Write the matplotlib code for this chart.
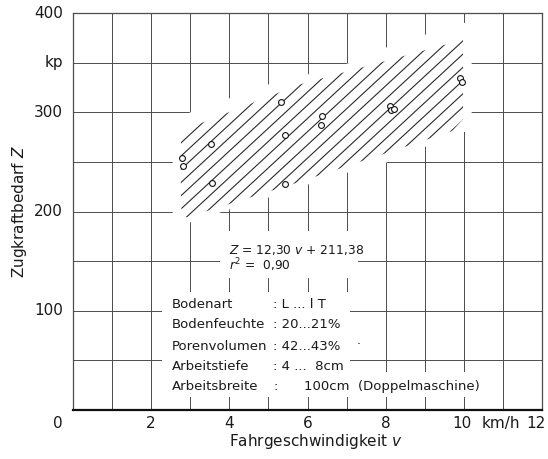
import numpy as np
import matplotlib
matplotlib.use("Agg")
import matplotlib.pyplot as plt
from matplotlib.patches import Polygon, Rectangle

plt.rcParams['font.family'] = ['DejaVu Sans']
plt.rcParams['mathtext.fontset'] = 'dejavusans'

# measured points: Fahrgeschwindigkeit v (km/h), Zugkraftbedarf Z (kp)
v_meas = [2.80, 2.81, 3.52, 3.56, 5.31, 5.42, 5.42, 6.38, 6.35, 8.12, 8.14, 8.21, 9.90, 9.95]
z_meas = [254, 246, 268, 229, 310, 277, 228, 296, 287, 306, 302, 303, 335, 330]

# scatter band (hatched area)
band_v = [2.76, 2.90, 5.73, 9.70, 9.98, 9.98, 5.80, 2.76]
band_z = [204, 194, 229, 281, 293, 373, 328, 281]

# grid is left out around the band
clear_v = [2.55, 2.55, 3.0, 4.0, 5.0, 6.0, 7.2, 8.0, 9.0, 10.0, 10.2, 10.2, 10.0, 9.0, 8.0, 7.0, 6.0, 5.0, 4.0, 3.0]
clear_z = [185, 285, 300, 314, 328, 338, 351, 365, 378, 390, 390, 282, 280, 265, 249, 239, 227, 214, 202, 189]

x_ticks = [2, 4, 6, 8]
y_ticks = [100, 200, 300, 400]

info_names = ["Bodenart", "Bodenfeuchte", "Porenvolumen", "Arbeitstiefe", "Arbeitsbreite"]
info_values = [": L ... l T", ": 20...21%", ": 42...43%", ": 4 ...  8cm", ":"]

fig = plt.figure(figsize=(5.48, 4.59), dpi=100)
ax = fig.add_axes([73 / 548, 1 - 410 / 459, 469 / 548, 397 / 459])
ax.set_xlim(0, 12)
ax.set_ylim(0, 400)
ax.set_xticks([])
ax.set_yticks([])

gc = '#4d4d4d'
for x in range(1, 12):
    ax.axvline(x, color=gc, lw=0.7, zorder=1)
for y in range(50, 400, 50):
    ax.axhline(y, color=gc, lw=0.7, zorder=1)

for side in ['left', 'top', 'right']:
    ax.spines[side].set_color(gc)
    ax.spines[side].set_linewidth(0.9)
ax.spines['bottom'].set_color('#111111')
ax.spines['bottom'].set_linewidth(1.6)

# white gaps in the grid
ax.add_patch(Polygon(np.column_stack([clear_v, clear_z]), closed=True,
                     facecolor='white', edgecolor='none', zorder=2))
# equation box
ax.add_patch(Rectangle((3.76, 133), 3.54, 47, facecolor='white', edgecolor='none', zorder=2))
# soil data box
ax.add_patch(Rectangle((2.27, 13), 4.83, 106, facecolor='white', edgecolor='none', zorder=2))
ax.add_patch(Rectangle((2.27, 13), 8.58, 25, facecolor='white', edgecolor='none', zorder=2))

# hatched band
band = Polygon(np.column_stack([band_v, band_z]), closed=True,
               facecolor='none', edgecolor='none', zorder=3)
ax.add_patch(band)
slope = 36.4
v0 = 2.91 - 194.6 / slope
for k in range(-40, 40):
    c = v0 + k * 0.366
    vv = np.array([c, c + 400 / slope])
    ln, = ax.plot(vv, slope * (vv - c), color='#2a2a2a', lw=0.8, zorder=3)
    ln.set_clip_path(band)

ax.plot(v_meas, z_meas, 'o', ms=4.2, mfc='white', mec='#111111', mew=0.8, zorder=4)

tc = '#1a1a1a'
# tick labels
for t in x_ticks:
    ax.text(t, -14, str(t), ha='center', va='center', fontsize=11, color=tc)
ax.text(9.95, -14, "10", ha='center', va='center', fontsize=11, color=tc)
ax.text(10.95, -14, "km/h", ha='center', va='center', fontsize=11, color=tc)
ax.text(12.08, -14, "12", ha='right', va='center', fontsize=11, color=tc)
ax.text(-0.38, -14, "0", ha='center', va='center', fontsize=11, color=tc)
for t in y_ticks:
    ax.text(-0.26, t, str(t), ha='right', va='center', fontsize=11, color=tc)
ax.text(-0.26, 350, "kp", ha='right', va='center', fontsize=11, color=tc)

ax.text(6.2, -32, "Fahrgeschwindigkeit $v$", ha='center', va='center', fontsize=11, color=tc)
ax.text(-1.36, 200, "Zugkraftbedarf $Z$", ha='center', va='center', rotation=90,
        fontsize=11, color=tc)

# regression
ax.text(4.0, 161.5, "$Z$ = 12,30 $v$ + 211,38", ha='left', va='center', fontsize=8.8,
        color=tc, zorder=5)
ax.text(4.0, 145.5, "$r^2$ =  0,90", ha='left', va='center', fontsize=8.8,
        color=tc, zorder=5)

row_z = [106, 86, 63.6, 43.4, 23.2]
for name, val, z in zip(info_names, info_values, row_z):
    ax.text(2.53, z, name, ha='left', va='center', fontsize=9.5, color=tc, zorder=5)
    ax.text(5.12, z, val, ha='left', va='center', fontsize=9.5, color=tc, zorder=5)
ax.text(5.9, 23.2, "100cm  (Doppelmaschine)", ha='left', va='center', fontsize=9.5,
        color=tc, zorder=5)
ax.text(7.25, 63.6, ".", ha='left', va='bottom', fontsize=9, color=tc, zorder=5)

fig.savefig("out.png", dpi=100)
